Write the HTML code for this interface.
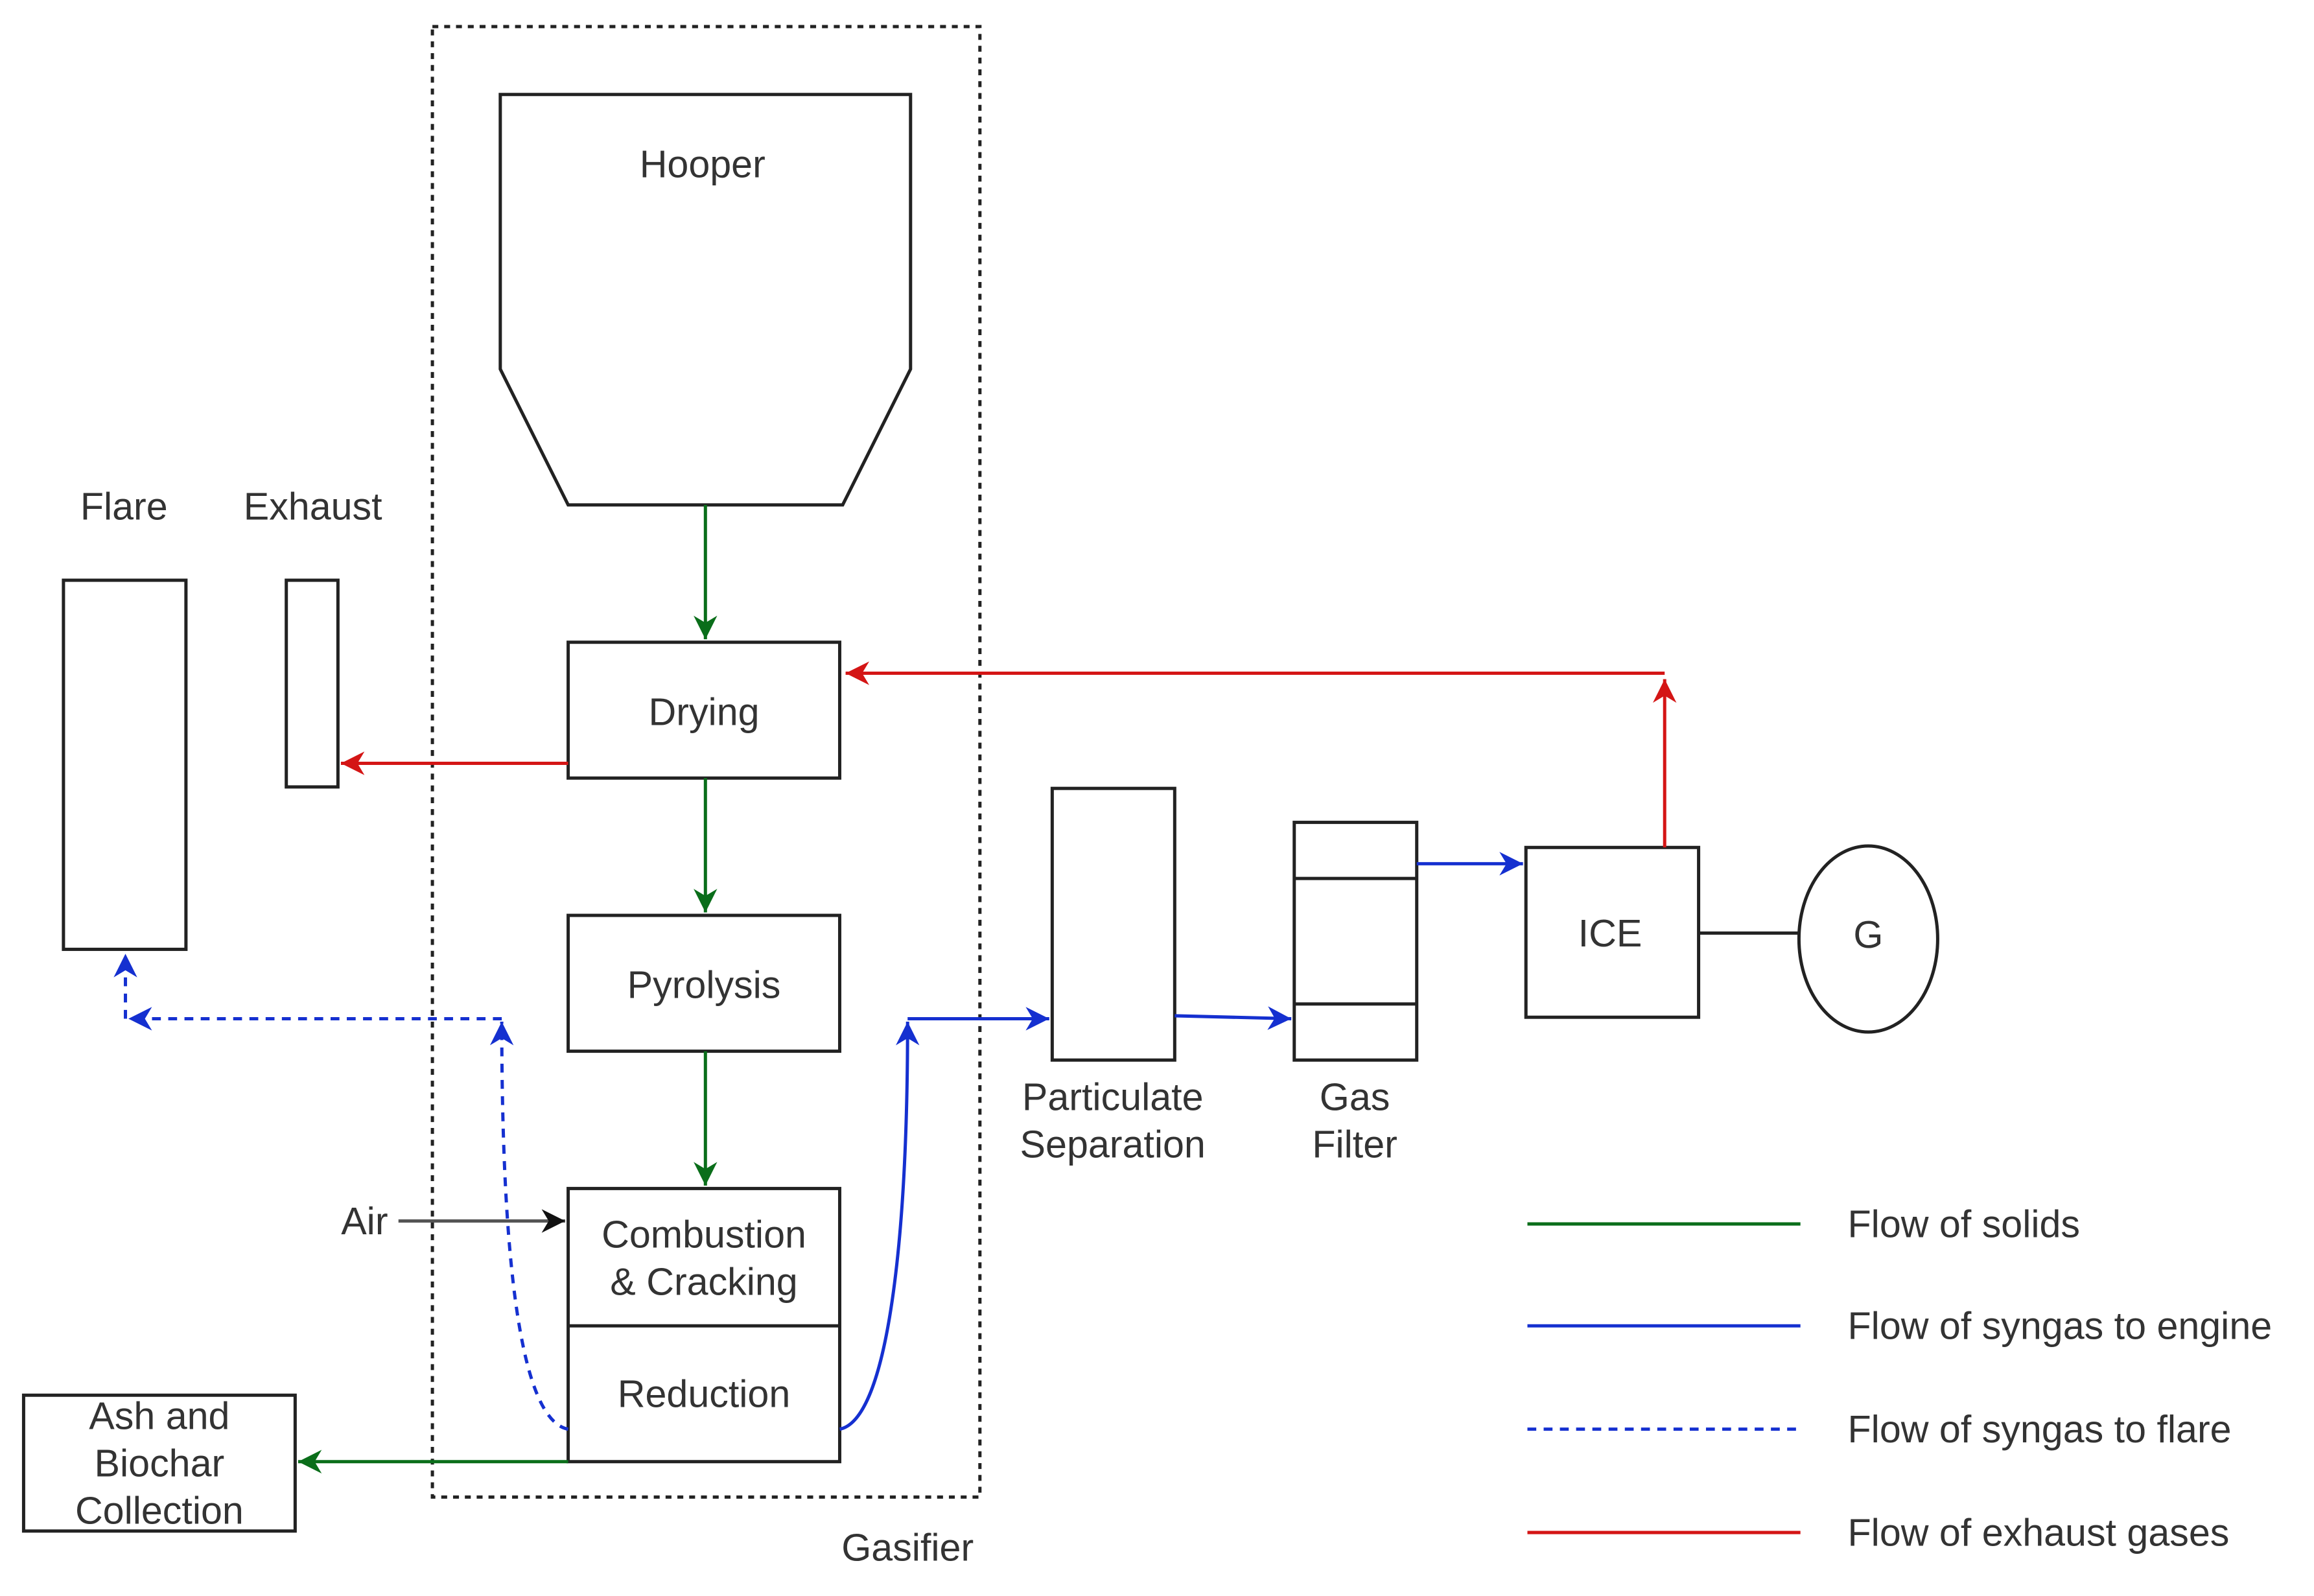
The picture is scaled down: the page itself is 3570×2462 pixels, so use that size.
<!DOCTYPE html>
<html><head><meta charset="utf-8"><style>html,body{margin:0;padding:0;background:#fff}svg{display:block}</style></head>
<body>
<svg width="3570" height="2462" viewBox="0 0 1568 1081" preserveAspectRatio="none" xmlns="http://www.w3.org/2000/svg" font-family="Liberation Sans, sans-serif" font-size="26" fill="#333">
<defs>
<marker id="g" markerWidth="16" markerHeight="16" refX="10" refY="5" orient="auto" markerUnits="userSpaceOnUse" viewBox="0 0 10 10"><path d="M0,0 L10,5 L0,10 L3,5z" fill="#0a6e1a"/></marker>
<marker id="b" markerWidth="16" markerHeight="16" refX="10" refY="5" orient="auto" markerUnits="userSpaceOnUse" viewBox="0 0 10 10"><path d="M0,0 L10,5 L0,10 L3,5z" fill="#1530d0"/></marker>
<marker id="r" markerWidth="16" markerHeight="16" refX="10" refY="5" orient="auto" markerUnits="userSpaceOnUse" viewBox="0 0 10 10"><path d="M0,0 L10,5 L0,10 L3,5z" fill="#d41515"/></marker>
<marker id="k" markerWidth="16" markerHeight="16" refX="10" refY="5" orient="auto" markerUnits="userSpaceOnUse" viewBox="0 0 10 10"><path d="M0,0 L10,5 L0,10 L3,5z" fill="#111"/></marker>
</defs>
<g fill="none" stroke="#222" stroke-width="2.2">
<rect x="293" y="18" width="371" height="996" stroke-dasharray="4,4"/>
<path d="M339,64 L617,64 L617,250 L571,342 L385,342 L339,250Z"/>
<rect x="385" y="435" width="184" height="92"/>
<rect x="385" y="620" width="184" height="92"/>
<rect x="385" y="805" width="184" height="185"/>
<line x1="385" y1="898" x2="569" y2="898"/>
<rect x="43" y="393" width="83" height="250"/>
<rect x="194" y="393" width="35" height="140"/>
<rect x="16" y="945" width="184" height="92"/>
<rect x="713" y="534" width="83" height="184"/>
<rect x="877" y="557" width="83" height="161"/>
<line x1="877" y1="595" x2="960" y2="595"/>
<line x1="877" y1="680" x2="960" y2="680"/>
<rect x="1034" y="574" width="117" height="115"/>
<line x1="1151" y1="632" x2="1220" y2="632"/>
<ellipse cx="1266" cy="636" rx="47" ry="63"/>
</g>
<g fill="none" stroke-width="2.2">
<line x1="478" y1="342" x2="478" y2="433" stroke="#0a6e1a" marker-end="url(#g)"/>
<line x1="478" y1="527" x2="478" y2="618" stroke="#0a6e1a" marker-end="url(#g)"/>
<line x1="478" y1="712" x2="478" y2="803" stroke="#0a6e1a" marker-end="url(#g)"/>
<line x1="385" y1="990" x2="202" y2="990" stroke="#0a6e1a" marker-end="url(#g)"/>
<line x1="385" y1="517" x2="231" y2="517" stroke="#d41515" marker-end="url(#r)"/>
<line x1="1128" y1="574" x2="1128" y2="460" stroke="#d41515" marker-end="url(#r)"/>
<line x1="1128" y1="456" x2="573" y2="456" stroke="#d41515" marker-end="url(#r)"/>
<line x1="270" y1="827" x2="383" y2="827" stroke="#555" marker-end="url(#k)"/>
<path d="M385,968 C352,962 340,850 340,692" stroke="#1530d0" stroke-dasharray="6,5" marker-end="url(#b)"/>
<path d="M340,690 L87,690" stroke="#1530d0" stroke-dasharray="6,5" marker-end="url(#b)"/>
<path d="M85,690 L85,646" stroke="#1530d0" stroke-dasharray="6,5" marker-end="url(#b)"/>
<path d="M569,968 C600,962 615,850 615,692" stroke="#1530d0" marker-end="url(#b)"/>
<line x1="615" y1="690" x2="711" y2="690" stroke="#1530d0" marker-end="url(#b)"/>
<line x1="796" y1="688" x2="875" y2="690" stroke="#1530d0" marker-end="url(#b)"/>
<line x1="960" y1="585" x2="1032" y2="585" stroke="#1530d0" marker-end="url(#b)"/>
<line x1="1035" y1="829" x2="1220" y2="829" stroke="#0a6e1a"/>
<line x1="1035" y1="898" x2="1220" y2="898" stroke="#1530d0"/>
<line x1="1035" y1="968" x2="1220" y2="968" stroke="#1530d0" stroke-dasharray="6,5"/>
<line x1="1035" y1="1038" x2="1220" y2="1038" stroke="#d41515"/>
</g>
<g text-anchor="middle">
<text x="476" y="120">Hooper</text>
<text x="477" y="491">Drying</text>
<text x="477" y="676">Pyrolysis</text>
<text x="477" y="845">Combustion</text>
<text x="477" y="877">&amp; Cracking</text>
<text x="477" y="953">Reduction</text>
<text x="84" y="352">Flare</text>
<text x="212" y="352">Exhaust</text>
<text x="108" y="968">Ash and</text>
<text x="108" y="1000">Biochar</text>
<text x="108" y="1032">Collection</text>
<text x="247" y="836">Air</text>
<text x="754" y="752">Particulate</text>
<text x="754" y="784">Separation</text>
<text x="918" y="752">Gas</text>
<text x="918" y="784">Filter</text>
<text x="1091" y="641">ICE</text>
<text x="1266" y="642">G</text>
<text x="615" y="1057">Gasifier</text>
</g>
<text x="1252" y="838">Flow of solids</text>
<text x="1252" y="907">Flow of syngas to engine</text>
<text x="1252" y="977">Flow of syngas to flare</text>
<text x="1252" y="1047">Flow of exhaust gases</text>
</svg>
</body></html>
